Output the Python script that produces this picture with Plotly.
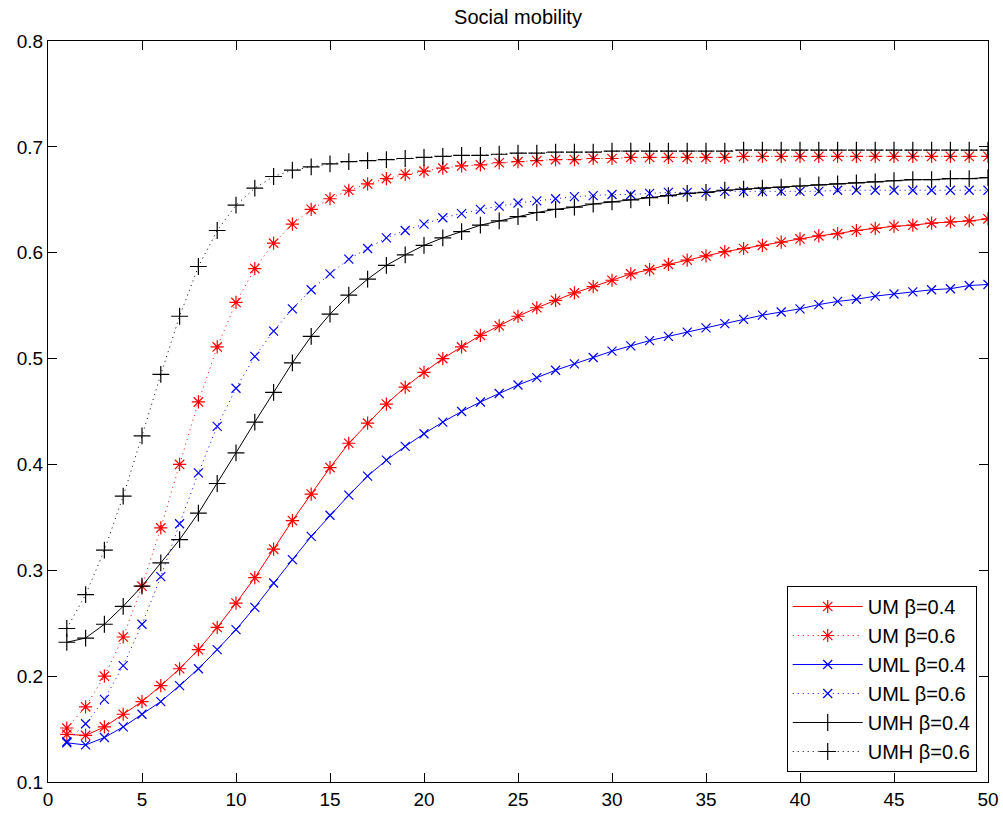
import plotly.graph_objects as go

x = list(range(1, 51))

um_04 = [0.145, 0.144, 0.152, 0.164, 0.176, 0.191, 0.207, 0.225, 0.246, 0.269,
         0.293, 0.320, 0.347, 0.372, 0.397, 0.420, 0.439, 0.457, 0.473, 0.487,
         0.500, 0.511, 0.522, 0.531, 0.540, 0.548, 0.555, 0.562, 0.568, 0.574,
         0.580, 0.584, 0.589, 0.593, 0.597, 0.601, 0.604, 0.607, 0.610, 0.613,
         0.616, 0.618, 0.621, 0.623, 0.625, 0.626, 0.628, 0.629, 0.630, 0.632]

um_06 = [0.151, 0.171, 0.200, 0.237, 0.285, 0.340, 0.400, 0.459, 0.511, 0.553,
         0.585, 0.609, 0.627, 0.641, 0.651, 0.659, 0.665, 0.670, 0.674, 0.677,
         0.680, 0.682, 0.683, 0.685, 0.686, 0.687, 0.688, 0.688, 0.689, 0.689,
         0.690, 0.690, 0.690, 0.690, 0.690, 0.690, 0.691, 0.691, 0.691, 0.691,
         0.691, 0.691, 0.691, 0.691, 0.691, 0.691, 0.691, 0.691, 0.691, 0.691]

uml_04 = [0.137, 0.135, 0.142, 0.152, 0.164, 0.176, 0.191, 0.207, 0.225, 0.244,
          0.265, 0.288, 0.310, 0.332, 0.352, 0.371, 0.389, 0.404, 0.417, 0.429,
          0.440, 0.450, 0.459, 0.467, 0.475, 0.482, 0.489, 0.495, 0.501, 0.507,
          0.512, 0.517, 0.521, 0.525, 0.529, 0.533, 0.537, 0.541, 0.544, 0.547,
          0.551, 0.554, 0.556, 0.559, 0.561, 0.563, 0.565, 0.566, 0.569, 0.570]

uml_06 = [0.138, 0.155, 0.178, 0.210, 0.249, 0.294, 0.344, 0.392, 0.436, 0.472,
          0.502, 0.526, 0.547, 0.565, 0.580, 0.594, 0.604, 0.614, 0.621, 0.627,
          0.633, 0.637, 0.641, 0.644, 0.647, 0.649, 0.651, 0.653, 0.654, 0.655,
          0.655, 0.656, 0.657, 0.657, 0.657, 0.658, 0.658, 0.658, 0.658, 0.658,
          0.658, 0.659, 0.659, 0.659, 0.659, 0.659, 0.659, 0.659, 0.659, 0.659]

umh_04 = [0.232, 0.236, 0.249, 0.266, 0.285, 0.307, 0.329, 0.354, 0.382, 0.411,
          0.440, 0.468, 0.496, 0.521, 0.542, 0.560, 0.575, 0.588, 0.598, 0.607,
          0.614, 0.620, 0.626, 0.630, 0.634, 0.638, 0.641, 0.643, 0.646, 0.648,
          0.650, 0.652, 0.654, 0.656, 0.657, 0.659, 0.660, 0.661, 0.662, 0.663,
          0.664, 0.665, 0.666, 0.667, 0.668, 0.669, 0.669, 0.670, 0.670, 0.671]

umh_06 = [0.245, 0.277, 0.319, 0.370, 0.427, 0.485, 0.540, 0.587, 0.621, 0.645,
          0.661, 0.672, 0.678, 0.681, 0.684, 0.686, 0.687, 0.688, 0.689, 0.690,
          0.691, 0.692, 0.692, 0.693, 0.694, 0.694, 0.695, 0.695, 0.695, 0.696,
          0.696, 0.696, 0.696, 0.696, 0.696, 0.696, 0.697, 0.697, 0.697, 0.697,
          0.697, 0.697, 0.697, 0.697, 0.697, 0.697, 0.697, 0.697, 0.697, 0.697]

series_names = ["UM β=0.4", "UM β=0.6", "UML β=0.4", "UML β=0.6", "UMH β=0.4", "UMH β=0.6"]
series_values = [um_04, um_06, uml_04, uml_06, umh_04, umh_06]
colors = ["#ff0000", "#ff0000", "#0000ff", "#0000ff", "#000000", "#000000"]
dashes = ["solid", "1px,4px", "solid", "1px,4px", "solid", "1px,4px"]
symbols = ["asterisk-open", "asterisk-open", "x-thin-open", "x-thin-open",
           "cross-thin-open", "cross-thin-open"]
msizes = [11, 11, 9, 9, 12, 12]

FONT = "Liberation Sans, Arial, Helvetica, sans-serif"

fig = go.Figure()
for name, vals, c, d, s, ms in zip(series_names, series_values, colors, dashes, symbols, msizes):
    fig.add_trace(go.Scatter(
        x=x, y=vals, name=name, mode="lines+markers",
        line=dict(color=c, width=1, dash=d),
        marker=dict(symbol=s, size=ms, color=c, line=dict(color=c, width=1.2)),
    ))

fig.update_layout(
    width=1003, height=815,
    paper_bgcolor="white", plot_bgcolor="white",
    margin=dict(l=48, r=15, t=41, b=33, autoexpand=False),
    font=dict(family=FONT, size=19, color="black"),
    title=dict(text="Social mobility", x=0.5, xref="paper", xanchor="center",
               y=1 - 17 / 815, yanchor="middle", font=dict(family=FONT, size=20, color="black")),
    showlegend=True,
    legend=dict(x=0.988, y=0.0135, xanchor="right", yanchor="bottom",
                bgcolor="white", bordercolor="black", borderwidth=1,
                font=dict(family=FONT, size=20, color="black"),
                tracegroupgap=0, itemwidth=70),
)
fig.update_xaxes(range=[0, 50], tickvals=list(range(0, 51, 5)),
                 ticks="inside", ticklen=9, tickcolor="black", automargin=False,
                 showline=True, linecolor="black", linewidth=1, mirror="ticks",
                 showgrid=False, zeroline=False,
                 tickfont=dict(family=FONT, size=19, color="black"))
fig.update_yaxes(range=[0.1, 0.8], tickvals=[0.1, 0.2, 0.3, 0.4, 0.5, 0.6, 0.7, 0.8],
                 ticktext=["0.1", "0.2", "0.3", "0.4", "0.5", "0.6", "0.7", "0.8"],
                 ticks="inside", ticklen=9, tickcolor="black", automargin=False,
                 showline=True, linecolor="black", linewidth=1, mirror="ticks",
                 showgrid=False, zeroline=False,
                 tickfont=dict(family=FONT, size=19, color="black"))

fig.write_html("out.html", config={"displayModeBar": False},
               post_script="document.body.style.margin='0px';")
